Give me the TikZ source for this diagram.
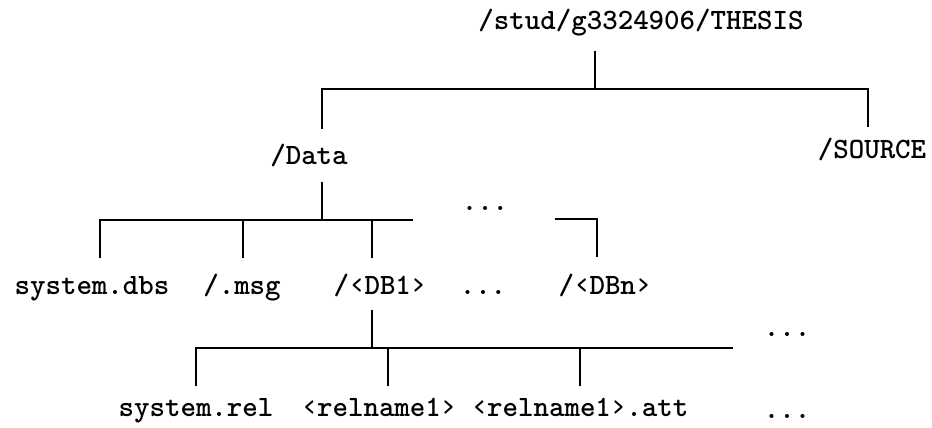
\documentclass[tikz,border=0pt]{standalone}
\usepackage{fontspec}
\begin{document}
\begin{tikzpicture}[x=1pt,y=-1pt,
  lbl/.style={font=\ttfamily\bfseries\fontsize{29.5}{32}\selectfont, inner sep=0pt, anchor=base},
  narrow/.style={font=\ttfamily\bfseries\fontsize{29.5}{32}\selectfont\addfontfeature{FakeStretch=0.92}},
  link/.style={line width=2.5pt, line cap=rect}]
\useasboundingbox (0,0) rectangle (932,428);

% directory names
\node[lbl] (root)    at (641,30)  {/stud/g3324906/THESIS};
\node[lbl] (data)    at (309,164) {/Data};
\node[lbl] (source)  at (872,158) {/SOURCE};
\node[lbl] (sysdbs)  at (92,294)  {system.dbs};
\node[lbl] (msg)     at (242,294) {/.msg};
\node[lbl] (db1)     at (380,294) {/‹DB1›};
\node[lbl] (dbdots)  at (483,294) {...};
\node[lbl] (dbn)     at (605,294) {/‹DBn›};
\node[lbl] (topdots) at (485,210) {...};
\node[lbl,narrow] (sysrel)  at (196,416) {system.rel};
\node[lbl,narrow] (rel)     at (379,416) {‹relname1›};
\node[lbl,narrow] (att)     at (580,416) {‹relname1›.att};
\node[lbl] (reldots) at (787,418) {...};
\node[lbl] (reltop)  at (787,336) {...};

% junction points of the tree
\coordinate (rootA) at (595,52);
\coordinate (rootJ) at (595,89);
\coordinate (dataT) at (322,89);
\coordinate (dataA) at (322,128);
\coordinate (srcT)  at (868,89);
\coordinate (srcA)  at (868,126);

\coordinate (dataB) at (322,183);
\coordinate (dataJ) at (322,220);
\coordinate (sdT)   at (100,220);
\coordinate (sdA)   at (100,257);
\coordinate (msgT)  at (243,220);
\coordinate (msgA)  at (243,257);
\coordinate (dbT)   at (372,220);
\coordinate (dbA)   at (372,257);
\coordinate (barE)  at (412,220);
\coordinate (dnL)   at (556,219);
\coordinate (dnT)   at (597,219);
\coordinate (dnA)   at (597,256);

\coordinate (db1B)  at (372,311);
\coordinate (db1J)  at (372,348);
\coordinate (srT)   at (196,348);
\coordinate (srA)   at (196,385);
\coordinate (rlT)   at (388,348);
\coordinate (rlA)   at (388,385);
\coordinate (atT)   at (580,348);
\coordinate (atA)   at (580,385);
\coordinate (relE)  at (732,348);

% level 1
\draw[link] (rootA) -- (rootJ);
\draw[link] (dataA) -- (dataT) -- (srcT) -- (srcA);
% level 2
\draw[link] (dataB) -- (dataJ);
\draw[link] (sdA) -- (sdT) -- (barE);
\draw[link] (msgT) -- (msgA);
\draw[link] (dbT) -- (dbA);
\draw[link] (dnL) -- (dnT) -- (dnA);
% level 3
\draw[link] (db1B) -- (db1J);
\draw[link] (srA) -- (srT) -- (relE);
\draw[link] (rlT) -- (rlA);
\draw[link] (atT) -- (atA);
\end{tikzpicture}
\end{document}
